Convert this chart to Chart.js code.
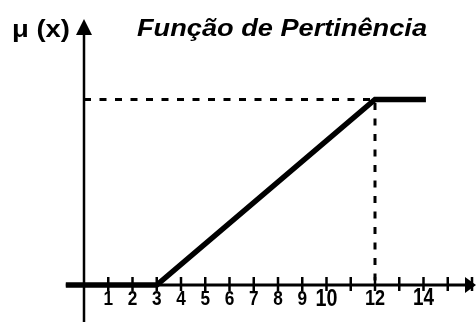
<!DOCTYPE html>
<html>
<head>
<meta charset="utf-8">
<script src="https://cdn.jsdelivr.net/npm/chart.js@4.4.1/dist/chart.umd.min.js"></script>
<style>
  html, body { margin: 0; padding: 0; background: #fff; }
  #wrap { position: relative; width: 476px; height: 322px; }
</style>
</head>
<body>
<div id="wrap"><canvas id="chart"></canvas></div>
<script>
  // membership function: 0 up to 3, linear ramp to 1 at 12, then flat
  const memberX = [-0.75, 3, 12, 14.1];
  const memberY = [0, 0, 1, 1];

  // dashed guide from the y axis to the corner at 12
  const guideX = [0, 12, 12];
  const guideY = [1, 1, 0];

  const tickValues = [1, 2, 3, 4, 5, 6, 7, 8, 9, 10, 11, 12, 13, 14, 15, 16];
  const tickLabels = ["1", "2", "3", "4", "5", "6", "7", "8", "9", "10", "", "12", "", "14", "", ""];

  const titleText = "Função de Pertinência";
  const yAxisLabel = "μ (x)";

  const toPoints = (xs, ys) => xs.map((x, i) => ({ x: x, y: ys[i] }));

  const FONT = "'Liberation Sans', Arial, sans-serif";
  // bigger, heavier type for the two-digit labels
  const labelFont = {
    "10": "bold 24px " + FONT,
    "12": "bold 22px " + FONT,
    "14": "bold 23px " + FONT,
  };

  // draw text squeezed/stretched to a given width
  function fitText(ctx, text, cx, baseline, width) {
    const w = ctx.measureText(text).width;
    ctx.save();
    ctx.translate(cx, baseline);
    ctx.scale(width / w, 1);
    ctx.fillText(text, 0, 0);
    ctx.restore();
  }

  const axesPlugin = {
    id: "axes",
    beforeDatasetsDraw(chart) {
      const ctx = chart.ctx;
      const xs = chart.scales.x;
      const ys = chart.scales.y;
      const x0 = xs.getPixelForValue(0);
      const y0 = ys.getPixelForValue(0);
      const area = chart.chartArea;

      ctx.save();
      ctx.strokeStyle = "#000";
      ctx.fillStyle = "#000";

      // y axis with arrow
      ctx.lineWidth = 2.5;
      ctx.beginPath();
      ctx.moveTo(x0, area.bottom);
      ctx.lineTo(x0, 30);
      ctx.stroke();
      ctx.beginPath();
      ctx.moveTo(x0, 19);
      ctx.lineTo(x0 - 8, 35);
      ctx.lineTo(x0 + 8, 35);
      ctx.closePath();
      ctx.fill();

      // x axis with arrow
      ctx.lineWidth = 3;
      ctx.beginPath();
      ctx.moveTo(xs.getPixelForValue(memberX[0]), y0);
      ctx.lineTo(area.right - 8, y0);
      ctx.stroke();
      ctx.beginPath();
      ctx.moveTo(area.right, y0);
      ctx.lineTo(area.right - 11, y0 - 8);
      ctx.lineTo(area.right - 11, y0 + 8);
      ctx.closePath();
      ctx.fill();

      // tick marks and labels
      ctx.textAlign = "center";
      ctx.textBaseline = "middle";
      tickValues.forEach((v, i) => {
        const px = xs.getPixelForValue(v);
        ctx.lineWidth = 2.5;
        ctx.beginPath();
        ctx.moveTo(px, y0 - 8);
        ctx.lineTo(px, y0 + 6);
        ctx.stroke();
        const lbl = tickLabels[i];
        if (lbl) {
          ctx.font = labelFont[lbl] || "bold 21px " + FONT;
          fitText(ctx, lbl, px, y0 + 14, ctx.measureText(lbl).width * 0.82);
        }
      });

      // title and y label
      ctx.textBaseline = "alphabetic";
      ctx.font = "italic bold 24px " + FONT;
      fitText(ctx, titleText, 282, 35.5, 290);
      ctx.font = "bold 24px " + FONT;
      fitText(ctx, yAxisLabel, 41, 36.5, 58);
      ctx.restore();
    },
  };

  new Chart(document.getElementById("chart"), {
    type: "line",
    data: {
      datasets: [
        {
          data: toPoints(guideX, guideY),
          borderColor: "#000",
          borderWidth: 3,
          borderDash: [7, 8.5],
          pointRadius: 0,
          fill: false,
        },
        {
          data: toPoints(memberX, memberY),
          borderColor: "#000",
          borderWidth: 5.5,
          borderJoinStyle: "miter",
          pointRadius: 0,
          tension: 0,
          fill: false,
        },
      ],
    },
    options: {
      responsive: true,
      maintainAspectRatio: false,
      animation: false,
      layout: { padding: 0 },
      plugins: {
        legend: { display: false },
        tooltip: { enabled: false },
      },
      scales: {
        x: { type: "linear", min: -3.464, max: 16.165, display: false },
        y: { type: "linear", min: -0.1995, max: 1.5364, display: false },
      },
    },
    plugins: [axesPlugin],
  });
</script>
</body>
</html>
